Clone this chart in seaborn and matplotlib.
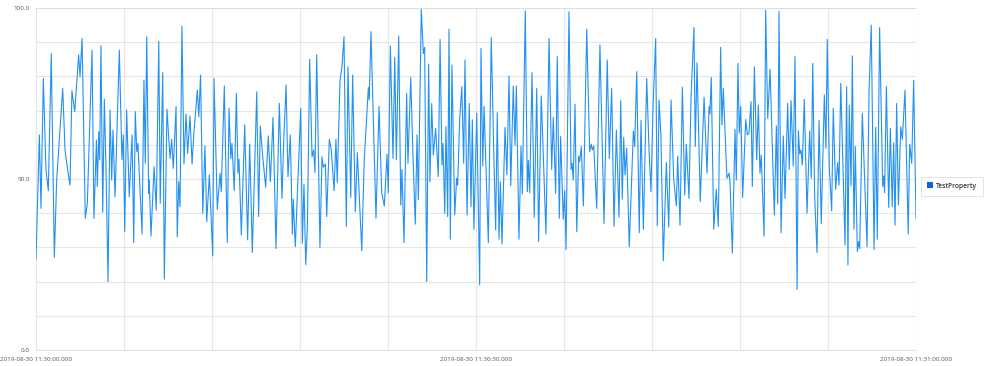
import matplotlib
matplotlib.use("Agg")
import matplotlib.pyplot as plt
from matplotlib.lines import Line2D
import seaborn as sns
import pandas as pd

# ---- data (seconds after 2019-08-30 11:30:00.000, value) ----
seconds = [
    0.00, 0.23, 0.34, 0.50, 0.68, 0.84, 1.04, 1.25, 1.41, 1.82,
    1.98, 2.16, 2.32, 2.45, 2.64, 2.91, 3.00, 3.14, 3.36, 3.50,
    3.82, 3.95, 4.12, 4.18, 4.28, 4.34, 4.43, 4.55, 4.66, 4.77,
    4.91, 5.05, 5.16, 5.25, 5.39, 5.68, 5.86, 5.95, 6.05, 6.18,
    6.36, 6.55, 6.66, 6.77, 6.87, 6.95, 7.23, 7.36, 7.45, 7.55,
    7.68, 7.72, 7.84, 8.05, 8.20, 8.37, 8.47, 8.64, 8.75, 8.93,
    9.14, 9.25, 9.36, 9.55, 9.63, 9.73, 9.82, 9.95, 10.09, 10.23,
    10.34, 10.50, 10.64, 10.77, 11.00, 11.10, 11.22, 11.37, 11.52, 11.64,
    11.82, 12.05, 12.14, 12.36, 12.55, 12.63, 12.84, 13.04, 13.16, 13.28,
    13.36, 13.52, 13.66, 13.77, 13.84, 14.00, 14.23, 14.43, 14.57, 14.75,
    14.88, 15.05, 15.18, 15.29, 15.46, 15.66, 15.84, 15.98, 16.16, 16.36,
    16.59, 16.77, 16.89, 17.05, 17.18, 17.34, 17.48, 17.54, 17.68, 18.05,
    18.16, 18.27, 18.39, 18.50, 18.66, 18.82, 18.93, 19.02, 19.14, 19.36,
    19.50, 19.59, 19.73, 19.82, 20.00, 20.13, 20.32, 20.45, 20.54, 20.73,
    20.86, 21.00, 21.16, 21.27, 21.46, 21.59, 21.77, 21.91, 22.21, 22.38,
    22.66, 22.72, 22.84, 23.18, 23.39, 23.57, 23.75, 23.93, 24.02, 24.16,
    24.34, 24.46, 24.57, 24.73, 24.87, 24.95, 25.09, 25.27, 25.36, 25.55,
    25.70, 25.86, 25.98, 26.07, 26.27, 26.41, 26.50, 26.64, 26.77, 26.86,
    26.98, 27.09, 27.25, 27.43, 27.55, 27.68, 27.75, 27.87, 27.95, 28.07,
    28.16, 28.25, 28.36, 28.55, 28.68, 28.75, 28.89, 29.03, 29.16, 29.25,
    29.39, 29.54, 29.66, 29.75, 29.86, 30.05, 30.25, 30.34, 30.46, 30.55,
    30.84, 31.04, 31.21, 31.34, 31.45, 31.57, 31.66, 31.77, 31.98, 32.11,
    32.25, 32.37, 32.54, 32.66, 32.75, 32.93, 33.07, 33.16, 33.36, 33.50,
    33.57, 33.66, 33.82, 33.97, 34.14, 34.27, 34.45, 34.77, 34.98, 35.16,
    35.27, 35.43, 35.54, 35.68, 35.77, 35.95, 36.05, 36.14, 36.34, 36.48,
    36.55, 36.63, 36.75, 36.87, 37.00, 37.07, 37.18, 37.32, 37.55, 37.75,
    37.86, 37.93, 38.03, 38.23, 38.45, 38.73, 38.95, 39.09, 39.25, 39.41,
    39.57, 39.75, 39.87, 39.97, 40.07, 40.16, 40.27, 40.45, 40.73, 40.82,
    40.96, 41.13, 41.25, 41.41, 41.64, 41.80, 41.93, 42.07, 42.25, 42.36,
    42.48, 42.61, 42.77, 42.98, 43.14, 43.30, 43.48, 43.66, 43.75, 43.91,
    44.07, 44.23, 44.34, 44.52, 44.66, 44.86, 44.95, 45.07, 45.29, 45.55,
    45.75, 45.89, 45.95, 46.04, 46.21, 46.38, 46.52, 46.68, 46.77, 46.86,
    47.11, 47.25, 47.32, 47.48, 47.66, 47.75, 47.86, 47.95, 48.05, 48.18,
    48.39, 48.50, 48.61, 48.75, 48.84, 48.98, 49.14, 49.25, 49.36, 49.45,
    49.64, 49.75, 49.89, 50.05, 50.34, 50.48, 50.57, 50.66, 50.80, 50.95,
    51.07, 51.25, 51.36, 51.48, 51.63, 51.75, 51.89, 51.98, 52.07, 52.16,
    52.25, 52.38, 52.57, 52.75, 52.86, 52.96, 53.09, 53.25, 53.39, 53.54,
    53.75, 53.86, 53.95, 54.09, 54.25, 54.36, 54.52, 54.66, 54.75, 54.87,
    55.16, 55.27, 55.36, 55.45, 55.57, 55.66, 55.77, 55.86, 56.00, 56.09,
    56.16, 56.34, 56.66, 56.80, 56.95, 57.14, 57.25, 57.36, 57.52, 57.73,
    57.80, 57.86, 57.98, 58.14, 58.25, 58.38, 58.48, 58.57, 58.68, 58.80,
    58.96, 59.07, 59.25, 59.47, 59.57, 59.71, 59.84, 60.00,
]

test_property = [
    26.5, 62.9, 41.4, 79.4, 52.6, 46.6, 86.7, 27.1, 49.7, 76.5,
    58.5, 52.6, 48.2, 75.8, 69.7, 86.3, 79.9, 91.1, 38.5, 42.9,
    87.7, 38.5, 61.4, 47.8, 63.8, 55.6, 89.0, 40.3, 73.3, 53.6,
    20.0, 70.2, 49.7, 64.3, 44.8, 87.7, 55.6, 62.9, 34.6, 70.2,
    44.8, 62.9, 31.4, 69.7, 58.0, 60.4, 33.9, 78.9, 54.6, 91.6,
    45.8, 49.7, 33.3, 53.6, 40.9, 90.2, 42.9, 81.1, 20.7, 70.4,
    56.0, 61.6, 53.1, 71.2, 33.1, 49.2, 41.9, 94.7, 54.4, 69.0,
    57.5, 68.4, 54.4, 63.8, 76.0, 68.2, 80.4, 40.0, 59.6, 37.5,
    51.2, 27.5, 79.4, 41.1, 51.7, 46.3, 77.2, 31.4, 70.7, 56.0,
    60.4, 46.6, 75.0, 51.7, 55.8, 33.6, 65.8, 32.2, 60.2, 28.5,
    49.2, 75.5, 39.0, 65.5, 56.5, 47.6, 62.6, 49.2, 68.0, 29.7,
    72.1, 44.3, 61.2, 77.5, 50.7, 62.9, 33.9, 44.1, 30.2, 70.7,
    31.2, 48.5, 25.0, 35.6, 85.0, 56.5, 58.5, 51.9, 86.3, 30.0,
    56.5, 53.4, 54.4, 39.0, 61.6, 58.7, 46.6, 61.6, 49.0, 78.9,
    82.8, 91.6, 36.1, 82.8, 44.6, 80.4, 40.4, 57.7, 29.0, 55.6,
    76.8, 73.1, 93.1, 38.5, 71.3, 46.0, 42.1, 57.3, 46.0, 88.9,
    56.0, 85.6, 55.6, 91.8, 42.4, 52.8, 31.4, 75.0, 54.6, 79.7,
    57.3, 36.8, 62.9, 43.9, 99.6, 86.7, 88.5, 20.0, 83.6, 49.2,
    72.1, 57.0, 64.8, 50.7, 90.8, 54.1, 60.4, 40.0, 65.3, 39.0,
    93.8, 32.4, 83.3, 39.5, 50.2, 48.2, 67.7, 77.0, 54.6, 84.8,
    39.5, 72.1, 41.9, 67.3, 35.3, 69.2, 19.0, 88.2, 53.8, 71.3,
    31.4, 91.4, 58.0, 35.1, 69.4, 32.4, 49.2, 31.0, 65.1, 51.2,
    80.1, 48.0, 77.2, 59.9, 77.2, 32.4, 59.6, 45.6, 99.2, 46.3,
    55.4, 46.0, 81.1, 38.8, 76.5, 31.7, 74.3, 33.9, 91.1, 52.8,
    68.0, 45.8, 85.8, 38.5, 62.4, 38.2, 46.6, 29.4, 98.9, 52.8,
    54.6, 49.7, 71.9, 34.6, 56.7, 55.1, 59.5, 42.1, 93.8, 58.0,
    60.2, 58.5, 59.6, 41.4, 89.2, 37.0, 84.8, 56.0, 76.5, 36.1,
    64.3, 38.8, 72.9, 44.1, 62.2, 51.2, 59.0, 30.2, 64.1, 59.5,
    81.4, 34.3, 67.1, 35.3, 79.4, 58.3, 46.3, 71.0, 91.1, 36.3,
    73.1, 62.4, 26.1, 54.8, 35.9, 73.1, 49.9, 42.1, 56.7, 36.5,
    76.8, 45.3, 60.2, 44.3, 73.6, 94.3, 59.5, 84.0, 43.4, 73.9,
    51.7, 71.2, 69.0, 79.7, 35.3, 47.0, 36.1, 88.5, 65.8, 76.5,
    50.2, 51.7, 48.9, 28.3, 64.5, 49.7, 83.8, 63.4, 71.3, 44.6,
    67.4, 62.9, 63.4, 72.6, 47.8, 82.8, 55.6, 71.6, 51.7, 57.0,
    33.3, 99.4, 67.7, 82.1, 39.5, 65.5, 42.7, 99.0, 34.3, 62.6,
    44.3, 72.1, 52.8, 72.9, 53.8, 85.8, 17.7, 64.1, 57.3, 58.5,
    54.1, 73.3, 40.0, 64.1, 50.2, 83.8, 45.0, 28.5, 67.1, 37.0,
    74.6, 59.0, 90.8, 53.6, 40.7, 70.7, 47.0, 54.8, 48.2, 78.0,
    30.7, 77.0, 24.9, 71.6, 48.0, 86.0, 35.3, 59.5, 28.8, 31.7,
    29.7, 69.2, 30.2, 76.0, 95.0, 29.4, 65.1, 32.4, 94.3, 47.8,
    50.9, 46.0, 77.0, 41.7, 64.8, 41.9, 60.6, 36.5, 72.1, 42.4,
    65.3, 61.6, 76.0, 33.9, 60.2, 54.6, 78.8, 38.5,
]

series_name = "TestProperty"
x_label_positions = [0, 30, 60]
x_tick_labels = ["2019-08-30 11:30:00.000", "2019-08-30 11:30:30.000", "2019-08-30 11:31:00.000"]
y_label_positions = [0, 50, 100]

df = pd.DataFrame({"t": seconds, "value": test_property})

sns.set_style("white")
plt.rcParams["font.family"] = ["Open Sans", "DejaVu Sans"]

fig = plt.figure(figsize=(9.98, 3.66), dpi=100)
ax = fig.add_axes([36 / 998, 1 - 350 / 366, 880 / 998, 342 / 366])

line_color = "#2291f2"
sns.lineplot(data=df, x="t", y="value", ax=ax, color=line_color, linewidth=0.8,
             legend=False, zorder=3)

ax.set_xlim(0, 60)
ax.set_ylim(0, 100)

grid_color = "#e6e6e6"
ax.set_xticks(range(0, 61, 6))
ax.set_yticks(range(0, 101, 10))
ax.set_xticklabels([x_tick_labels[x_label_positions.index(v)] if v in x_label_positions else ""
                    for v in range(0, 61, 6)])
ax.set_yticklabels([f"{v:.1f}" if v in y_label_positions else "" for v in range(0, 101, 10)])
ax.grid(True, color=grid_color, linewidth=0.8, zorder=0)
ax.tick_params(axis="both", length=3.5, width=0.6, color="#aaaaaa",
               labelsize=4.5, labelcolor="#555555", pad=1.2)
ax.tick_params(axis="y", length=3.5, pad=1.0)

for side in ["left", "right"]:
    ax.spines[side].set_visible(False)
for side in ["top", "bottom"]:
    ax.spines[side].set_color("#dcdcdc")
    ax.spines[side].set_linewidth(0.7)
    ax.spines[side].set_linestyle((0, (1.5, 1.5)))

ax.set_xlabel("")
ax.set_ylabel("")

handle = Line2D([], [], marker="s", linestyle="none", color="#1166cc",
                markersize=4.2, markeredgewidth=0)
leg = fig.legend(handles=[handle], labels=[series_name], loc="center left",
                 bbox_to_anchor=(921 / 998, 1 - 186 / 366), bbox_transform=fig.transFigure,
                 frameon=True, fancybox=False, fontsize=4.8, handlelength=0.8,
                 handletextpad=0.5, borderpad=0.9, borderaxespad=0)
leg.get_frame().set_edgecolor("#dddddd")
leg.get_frame().set_linewidth(0.7)
for txt in leg.get_texts():
    txt.set_color("#333333")
    txt.set_fontweight("semibold")

fig.savefig("out.png", dpi=100)
